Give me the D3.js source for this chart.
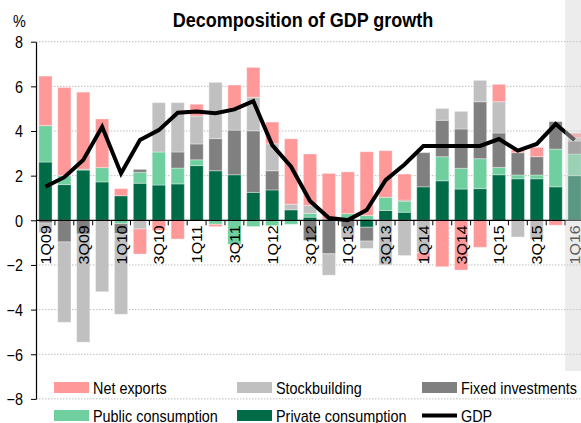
<!DOCTYPE html>
<html>
<head>
<meta charset="utf-8">
<script src="https://cdn.jsdelivr.net/npm/d3@7"></script>
<style>
  body { margin: 0; background: #fff; }
  svg text { font-family: "Liberation Sans", Arial, sans-serif; fill: #000; }
</style>
</head>
<body>
<script>
// quarters, 1Q09 .. 1Q16 (last one is a forecast, shaded)
const quarters = ['1Q09','2Q09','3Q09','4Q09','1Q10','2Q10','3Q10','4Q10','1Q11','2Q11','3Q11','4Q11',
  '1Q12','2Q12','3Q12','4Q12','1Q13','2Q13','3Q13','4Q13','1Q14','2Q14','3Q14','4Q14',
  '1Q15','2Q15','3Q15','4Q15','1Q16'];
const forecastQuarters = ['1Q16'];

// contributions, percentage points
const privateCons = [2.61, 1.60, 2.25, 1.72, 1.10, 1.66, 1.58, 1.63, 2.45, 2.22, 2.04, 1.25, 1.36, 0.47, 0.14, 0.05, 0.10, -0.31, 0.44, 0.36, 1.50, 1.77, 1.40, 1.42, 2.04, 1.86, 1.86, 1.50, 2.00];
const publicCons = [1.63, 0.40, 0.04, 0.64, -0.15, 0.49, 1.48, 0.71, 0.26, -0.18, -1.08, -0.28, -0.24, -0.18, 0.17, 0, 0.20, 0.22, 0.59, 0.49, 0, 1.08, 0.93, 1.34, 0.33, 0.17, 0.17, 1.69, 0.97];
const fixedInv = [-0.12, -0.97, -0.62, 0, -0.45, 0.13, 0, 0.72, 0.71, 1.44, 2.00, 2.76, 0.86, 0, -0.90, -1.50, -0.31, -0.62, 0, 0.05, 1.53, 1.63, 1.76, 2.55, 1.54, 1.00, 0.82, 1.23, 0.58];
const stockbuilding = [-0.43, -3.60, -4.84, -3.20, -3.61, -0.39, 2.21, 2.21, 1.25, 2.52, 0.90, 1.50, 1.21, 0.25, 0.36, -0.96, -0.50, -0.33, -2.00, -1.58, -1.45, 0.53, 0.79, 0.96, 1.40, -0.75, -0.85, 0, 0.15];
const netExports = [2.22, 3.95, 3.45, 2.18, 0.32, -1.12, -0.45, -0.84, 0.53, -0.10, 1.12, 1.34, 0.97, 2.93, 2.30, 2.05, 1.87, 2.85, 2.09, 1.17, -0.35, -2.08, -2.23, -1.21, 0.78, 0.12, 0.42, -0.22, 0.20];
const gdp = [1.50, 1.93, 2.70, 4.19, 2.10, 3.60, 4.04, 4.82, 4.87, 4.80, 4.97, 5.34, 3.37, 2.40, 0.87, 0.10, 0.01, 0.46, 1.80, 2.50, 3.33, 3.33, 3.33, 3.33, 3.64, 3.12, 3.42, 4.31, 3.60];

const yTicks = [-8, -6, -4, -2, 0, 2, 4, 6, 8];

const seriesNames = ['Private consumption', 'Public consumption', 'Fixed investments', 'Stockbuilding', 'Net exports'];
const seriesValues = [privateCons, publicCons, fixedInv, stockbuilding, netExports];
const colors = ['#006b47', '#6fcf9f', '#808080', '#c0c0c0', '#ff9999'];

const legendRows = [
  ['Net exports', 'Stockbuilding', 'Fixed investments'],
  ['Public consumption', 'Private consumption', 'GDP']
];

const W = 581, H = 423;
const squeeze = 0.9; // fonts look a bit narrow in the original
const plot = { left: 36, right: 584, top: 41.7, bottom: 398.9 };

const svg = d3.select('body').append('svg')
  .attr('width', W)
  .attr('height', H);

const x = d3.scaleBand()
  .domain(quarters)
  .range([plot.left, plot.right])
  .paddingInner(0.3)
  .paddingOuter(0.15);

const y = d3.scaleLinear()
  .domain([-8, 8])
  .range([plot.bottom, plot.top]);

const color = d3.scaleOrdinal().domain(seriesNames).range(colors);

// rows for stacking
const rows = quarters.map((q, i) => {
  const r = { q };
  seriesNames.forEach((s, k) => { r[s] = seriesValues[k][i]; });
  return r;
});

const stacked = d3.stack()
  .keys(seriesNames)
  .offset(d3.stackOffsetDiverging)(rows);

// gridlines
svg.append('g')
  .selectAll('line')
  .data(yTicks.filter(d => d !== 0))
  .enter()
  .append('line')
  .attr('x1', plot.left)
  .attr('x2', W)
  .attr('y1', d => y(d))
  .attr('y2', d => y(d))
  .attr('stroke', '#bdbdbd')
  .attr('stroke-width', 1)
  .attr('stroke-dasharray', '1.5,1.5');

// bars
svg.append('g')
  .selectAll('g')
  .data(stacked)
  .enter()
  .append('g')
  .attr('fill', d => color(d.key))
  .selectAll('rect')
  .data(d => d)
  .enter()
  .append('rect')
  .attr('x', d => x(d.data.q))
  .attr('width', x.bandwidth())
  .attr('y', d => y(Math.max(d[0], d[1])))
  .attr('height', d => Math.abs(y(d[0]) - y(d[1])))
  .attr('stroke', '#fff')
  .attr('stroke-opacity', 0.35)
  .attr('stroke-width', 1);

// GDP line
const line = d3.line()
  .x((d, i) => x(quarters[i]) + x.bandwidth() / 2)
  .y(d => y(d));

svg.append('path')
  .datum(gdp)
  .attr('d', line)
  .attr('fill', 'none')
  .attr('stroke', '#000')
  .attr('stroke-width', 4)
  .attr('stroke-linejoin', 'miter');

// y axis
const yAxisG = svg.append('g')
  .attr('transform', `translate(${plot.left},0)`)
  .call(d3.axisLeft(y).tickValues(yTicks).tickSize(5).tickSizeOuter(0).tickFormat(d3.format('d')));

yAxisG.select('.domain').attr('stroke', '#000').attr('stroke-width', 1.2);
yAxisG.selectAll('.tick line').attr('stroke', '#000');
yAxisG.selectAll('.tick text')
  .attr('x', null)
  .attr('dy', '0.36em')
  .attr('transform', `translate(-13,0) scale(${squeeze},1)`)
  .style('font-size', '16px');

// x axis line at zero, with ticks on band boundaries
const zeroY = y(0);
svg.append('line')
  .attr('x1', plot.left)
  .attr('x2', W)
  .attr('y1', zeroY)
  .attr('y2', zeroY)
  .attr('stroke', '#000')
  .attr('stroke-width', 1.2);

svg.append('g')
  .selectAll('line')
  .data(quarters.slice(1))
  .enter()
  .append('line')
  .attr('x1', d => x(d) - x.step() * x.paddingInner() / 2)
  .attr('x2', d => x(d) - x.step() * x.paddingInner() / 2)
  .attr('y1', zeroY)
  .attr('y2', zeroY + 5)
  .attr('stroke', '#000');

// quarter labels, every other one, rotated
svg.append('g')
  .selectAll('text')
  .data(quarters.filter((q, i) => i % 2 === 0))
  .enter()
  .append('text')
  .text(d => d)
  .attr('transform', d => `translate(${x(d) + x.bandwidth() / 2 + 5.5},${zeroY + 5}) scale(${squeeze},1) rotate(-90)`)
  .attr('text-anchor', 'end')
  .style('font-size', '16px');

// forecast shading (drawn over the bars)
svg.append('g')
  .selectAll('rect')
  .data(forecastQuarters)
  .enter()
  .append('rect')
  .attr('x', d => x(d) - x.step() * x.paddingInner() / 2)
  .attr('y', 0)
  .attr('width', x.step())
  .attr('height', 371)
  .attr('fill', '#d2d2d2')
  .attr('fill-opacity', 0.43);

// title and unit
svg.append('text')
  .text('Decomposition of GDP growth')
  .attr('transform', `translate(303,27) scale(${squeeze},1)`)
  .attr('text-anchor', 'middle')
  .style('font-size', '20px')
  .style('font-weight', 'bold');

svg.append('text')
  .text('%')
  .attr('transform', `translate(13,27) scale(${squeeze},1)`)
  .style('font-size', '16px');

// legend
const legendX = [54, 237, 422];
const legendY = [382, 410];

legendRows.forEach((row, r) => {
  const g = svg.append('g');
  row.forEach((name, c) => {
    const lx = legendX[c], ly = legendY[r];
    if (name === 'GDP') {
      g.append('line')
        .attr('x1', lx).attr('x2', lx + 35)
        .attr('y1', ly + 5.5).attr('y2', ly + 5.5)
        .attr('stroke', '#000')
        .attr('stroke-width', 4);
    } else {
      g.append('rect')
        .attr('x', lx).attr('y', ly)
        .attr('width', 35).attr('height', 11)
        .attr('fill', color(name));
    }
    g.append('text')
      .text(name)
      .attr('transform', `translate(${lx + 39},${ly + 11.5}) scale(${squeeze},1)`)
      .style('font-size', '16px');
  });
});
</script>
</body>
</html>
